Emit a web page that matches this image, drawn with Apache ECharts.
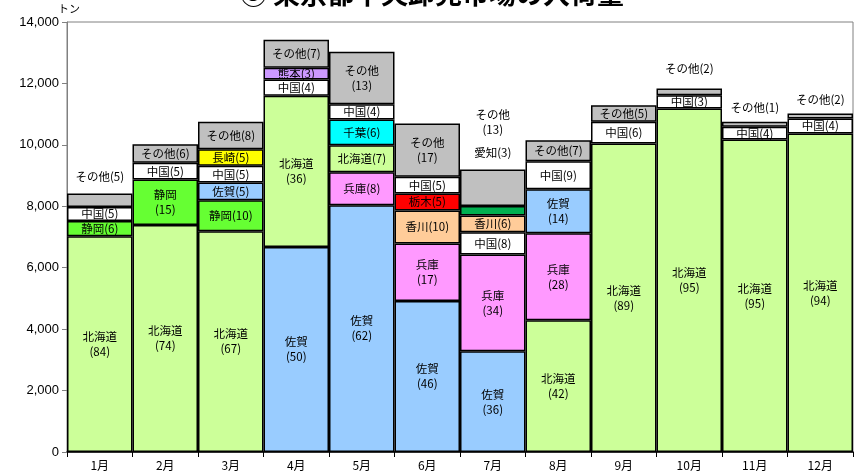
<!DOCTYPE html>
<html>
<head>
<meta charset="utf-8">
<script src="https://cdn.jsdelivr.net/npm/echarts@6/dist/echarts.min.js"></script>
<style>html,body{margin:0;padding:0;background:#fff}#c{width:864px;height:472px}</style>
</head>
<body>
<div id="c"></div>
<script>
// Categories
const months = ['1月','2月','3月','4月','5月','6月','7月','8月','9月','10月','11月','12月'];
// Segments per month, bottom to top: [prefecture, tonnes, share %]
const jan = [['北海道',7026,84],['静岡',498,6],['中国',456,5],['その他',437,5]];
const feb = [['北海道',7394,74],['静岡',1479,15],['中国',541,5],['その他',609,6]];
const mar = [['北海道',7189,67],['静岡',1010,10],['佐賀',576,5],['中国',541,5],['長崎',544,5],['その他',889,8]];
const apr = [['佐賀',6678,50],['北海道',4918,36],['中国',534,4],['熊本',378,3],['その他',912,7]];
const may = [['佐賀',8036,62],['兵庫',1075,8],['北海道',879,7],['千葉',837,6],['中国',499,4],['その他',1703,13]];
const jun = [['佐賀',4919,46],['兵庫',1869,17],['香川',1075,10],['栃木',554,5],['中国',541,5],['その他',1739,17]];
const jul = [['佐賀',3280,36],['兵庫',3150,34],['中国',726,8],['香川',544,6],['愛知',313,3],['その他',1186,13]];
const aug = [['北海道',4290,42],['兵庫',2834,28],['佐賀',1433,14],['中国',912,9],['その他',678,7]];
const sep = [['北海道',10046,89],['中国',703,6],['その他',544,5]];
const oct = [['北海道',11186,95],['中国',433,3],['その他',218,2]];
const nov = [['北海道',10176,95],['中国',410,4],['その他',163,1]];
const dec = [['北海道',10371,94],['中国',489,4],['その他',163,2]];
const monthData = [jan,feb,mar,apr,may,jun,jul,aug,sep,oct,nov,dec];
// Y axis ticks
const yTicks = [0,2000,4000,6000,8000,10000,12000,14000];

const colors = {
  '北海道':'#CCFF99','静岡':'#66FF33','中国':'#FFFFFF','その他':'#C0C0C0',
  '佐賀':'#99CCFF','長崎':'#FFFF00','熊本':'#CC99FF','千葉':'#00FFFF',
  '兵庫':'#FF99FF','香川':'#FFCC99','栃木':'#FF0000','愛知':'#00B050'
};
// label placements that sit outside the segment: key "monthIdx-layer"
const outside = {
  '0-3':{position:'top',distance:9},
  '6-5':{position:'top',distance:32,twoLine:true},
  '6-4':{position:'top',distance:46},
  '9-2':{position:'top',distance:12},
  '10-2':{position:'top',distance:7},
  '11-2':{position:'top',distance:6}
};

const maxLayers = Math.max(...monthData.map(m=>m.length));
const series = [];
for (let L=0; L<maxLayers; L++){
  const data = monthData.map((m,mi)=>{
    const seg = m[L];
    if(!seg) return {value:'-'};
    const [name,val,pct] = seg;
    const o = outside[mi+'-'+L];
    const two = o ? !!o.twoLine : val >= 1300;
    const txt = two ? name+'\n('+pct+')' : name+'('+pct+')';
    const label = {show:true, formatter:txt};
    if(o){ label.position=o.position; label.distance=o.distance; }
    return {value:val, name:name, itemStyle:{color:colors[name]}, label:label};
  });
  series.push({
    type:'bar', stack:'s', barWidth:'100%', data:data,
    itemStyle:{borderColor:'#000',borderWidth:1.5},
    label:{show:true,position:'inside',color:'#000',fontSize:11.5,lineHeight:15,
      fontFamily:'"Noto Sans CJK JP","Noto Sans",sans-serif'},
    emphasis:{disabled:true}, animation:false
  });
}

const chart = echarts.init(document.getElementById('c'));
chart.setOption({
  animation:false,
  title:{text:'③ 東京都中央卸売市場の入荷量',left:'center',top:-25,
    textStyle:{fontSize:27,fontWeight:'bold',color:'#000',fontFamily:'"Noto Sans CJK JP",sans-serif'}},
  graphic:[{type:'text',left:58,top:3,style:{text:'トン',fontSize:11,fill:'#000',fontFamily:'"Noto Sans CJK JP",sans-serif'}}],
  grid:{left:67,right:11,top:22,bottom:20,show:true,borderColor:'#808080',borderWidth:1,backgroundColor:'transparent'},
  xAxis:{type:'category',data:months,
    axisLine:{lineStyle:{color:'#000',width:1.5}},
    axisTick:{show:true,length:5,lineStyle:{color:'#000'}},
    axisLabel:{color:'#000',fontSize:12,margin:7,fontFamily:'"Noto Sans CJK JP",sans-serif'}},
  yAxis:{type:'value',min:yTicks[0],max:yTicks[yTicks.length-1],interval:yTicks[1]-yTicks[0],
    axisLine:{show:true,lineStyle:{color:'#808080'}},
    axisTick:{show:true,length:5,lineStyle:{color:'#808080'}},
    splitLine:{show:false},
    axisLabel:{color:'#000',fontSize:13,margin:8,fontFamily:'"Liberation Sans",sans-serif',
      formatter:v=>v.toLocaleString('en-US')}},
  series:series
});
</script>
</body>
</html>
